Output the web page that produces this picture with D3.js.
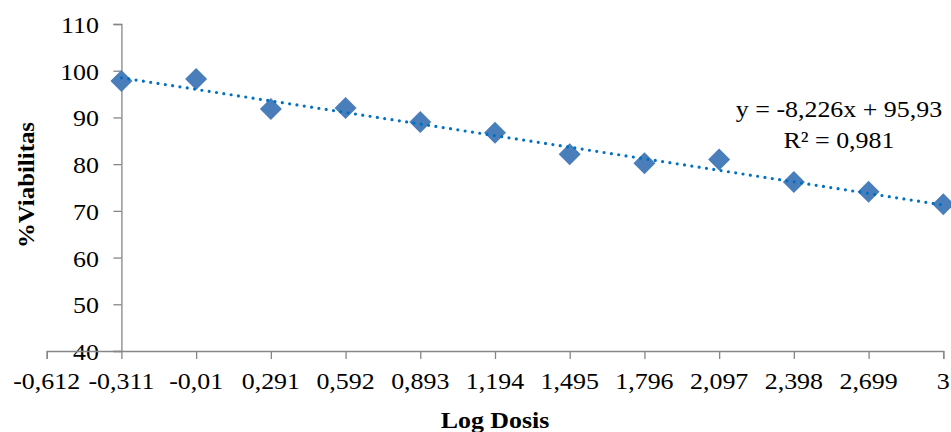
<!DOCTYPE html>
<html><head><meta charset="utf-8">
<script src="https://cdn.jsdelivr.net/npm/d3@7/dist/d3.min.js"></script>
<style>body{margin:0;background:#fff}svg{display:block}text{font-family:"Liberation Serif","Times New Roman",serif;fill:#000}</style>
</head><body>
<svg id="c" width="951" height="432"></svg>
<script>
const xTickValues = [-0.612,-0.311,-0.01,0.291,0.592,0.893,1.194,1.495,1.796,2.097,2.398,2.699,3];
const xTickLabels = ["-0,612","-0,311","-0,01","0,291","0,592","0,893","1,194","1,495","1,796","2,097","2,398","2,699","3"];
const yTickValues = [40,50,60,70,80,90,100,110];
const logDose = [-0.311,-0.01,0.291,0.592,0.893,1.194,1.495,1.796,2.097,2.398,2.699,3];
const viability = [97.8,98.2,91.8,92.0,89.0,86.7,82.1,80.2,81.0,76.2,74.1,71.4];
const slope = -8.226, intercept = 95.93;
const eqLines = ["y = -8,226x + 95,93","R² = 0,981"];

const svg = d3.select("#c");
const x = d3.scaleLinear().domain([-0.612,3]).range([46.7,943.3]);
const y = d3.scaleLinear().domain([40,110]).range([351,24]);
const axisColor = "#868686";
const SX = 1.08;

function txt(g, s, px, py, anchor, size, weight, rot){
  g.append("text").attr("transform",`translate(${px},${py}) ${rot?`rotate(${rot})`:""} scale(${SX},1)`)
    .attr("text-anchor",anchor).attr("font-size",size).attr("font-weight",weight||"normal").text(s);
}

// y axis
const ya = svg.append("g").attr("transform",`translate(${x(-0.311)},0)`)
  .call(d3.axisLeft(y).tickValues(yTickValues).tickSize(8).tickFormat(""));
ya.selectAll("line,path").attr("stroke",axisColor).attr("stroke-width",1.3);
yTickValues.forEach(v=>txt(svg,String(v),99,y(v)+9,"end",24));

// x axis
const xa = svg.append("g").attr("transform",`translate(0,${y(40)})`)
  .call(d3.axisBottom(x).tickValues(xTickValues).tickSize(8).tickFormat(""));
xa.selectAll("line,path").attr("stroke",axisColor).attr("stroke-width",1.3);
xTickValues.forEach((v,i)=>txt(svg,xTickLabels[i],x(v),389,"middle",24));

// markers
const r = 11;
svg.append("g").selectAll("path").data(logDose).join("path")
  .attr("transform",(d,i)=>`translate(${x(d)},${y(viability[i])})`)
  .attr("d",`M0,${-r}L${r},0L0,${r}L${-r},0Z`)
  .attr("fill","#4a7ebb");

// trend line
const x0 = logDose[0], x1 = logDose[logDose.length-1];
svg.append("line")
  .attr("x1",x(x0)).attr("y1",y(slope*x0+intercept))
  .attr("x2",x(x1)).attr("y2",y(slope*x1+intercept))
  .attr("stroke","#0070c0").attr("stroke-width",3.2)
  .attr("stroke-linecap","round").attr("stroke-dasharray","0 7.4");

// equation
txt(svg,eqLines[0],839,117,"middle",24);
txt(svg,eqLines[1],839,148,"middle",24);

// axis titles
txt(svg,"%Viabilitas",34,185,"middle",23,"bold",-90);
txt(svg,"Log Dosis",495,428,"middle",24,"bold");
</script>
</body></html>
